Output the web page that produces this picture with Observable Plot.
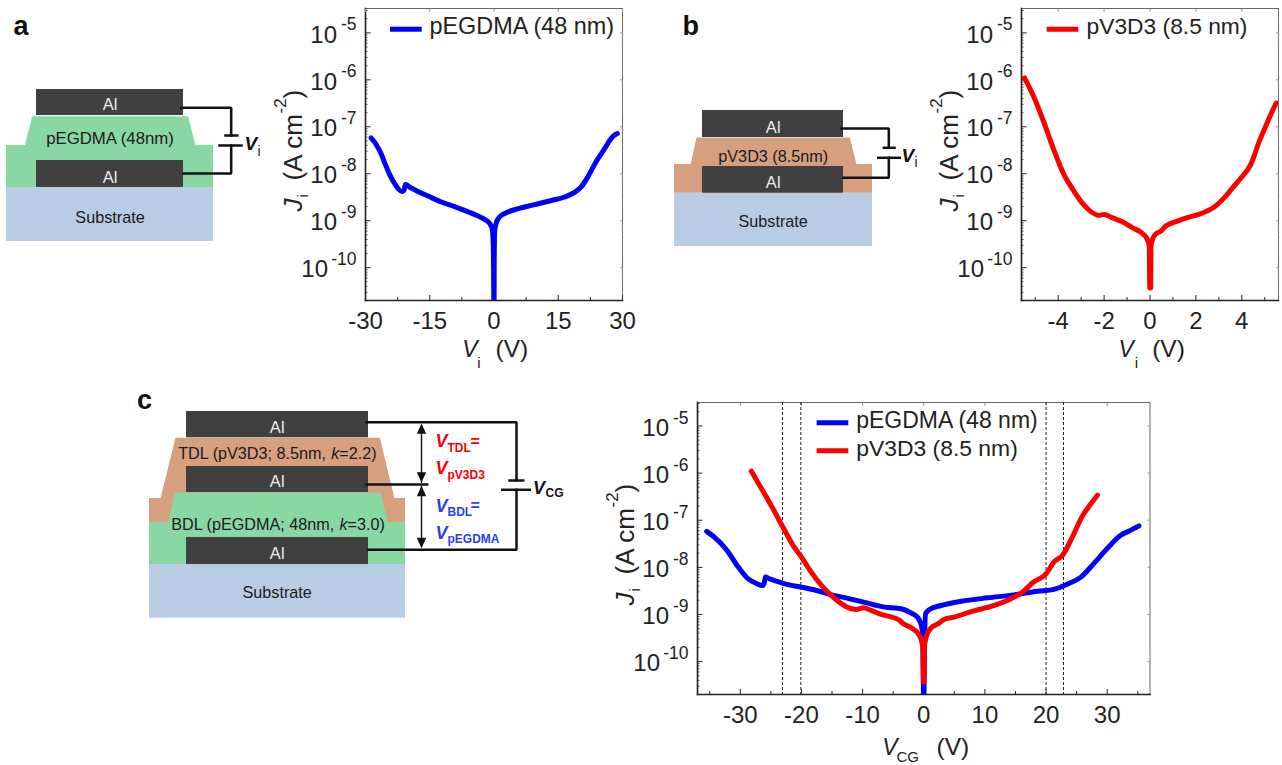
<!DOCTYPE html>
<html><head><meta charset="utf-8">
<script src="https://cdn.jsdelivr.net/npm/d3@7"></script>
<script src="https://cdn.jsdelivr.net/npm/@observablehq/plot@0.6"></script>
<style>
html,body{margin:0;padding:0;background:#fff;width:1282px;height:765px;overflow:hidden}
#page{position:relative;width:1282px;height:765px}
#page svg{position:absolute;background:transparent}
</style></head><body><div id="page"></div>
<script>
const FONT = '"Liberation Sans", Arial, sans-serif';
const BLUE = "#0000f5", RED = "#fa0000", INK = "#222";
const AL = "#404040", GREEN = "#89d7a2", TAN = "#d69f7e", SUB = "#b8cce4";

// Panel a: pEGDMA (48 nm)
const aV = [-28.7,-27.5,-26.3,-25.4,-24.4,-23.2,-22.3,-21.5,-21.0,-20.7,-20.25,-19.7,-19.2,-17.8,-15.4,-12.3,-9.2,-6.1,-3.7,-2.2,-1.0,-0.47,-0.2,-0.1,-0.02,0.02,0.05,0.15,0.55,1.3,2.9,5.6,9.5,13.4,16.5,18.8,20.4,22,23.9,25.9,27,27.8,28.8];
const aJ = [5.8e-8,4.2e-8,2.6e-8,1.6e-8,9.8e-9,6.2e-9,4.7e-9,4.2e-9,4.4e-9,5.9e-9,5.7e-9,5.2e-9,4.9e-9,4.2e-9,3.35e-9,2.5e-9,2.0e-9,1.55e-9,1.26e-9,1.07e-9,8.7e-10,7e-10,3.7e-10,1e-10,1.5e-11,1.5e-11,1.2e-10,6e-10,9.1e-10,1.2e-9,1.48e-9,1.8e-9,2.2e-9,2.7e-9,3.2e-9,4e-9,5.3e-9,8.9e-9,1.85e-8,3.5e-8,5.1e-8,6.3e-8,7.2e-8];
// Panel b: pV3D3 (8.5 nm)
const bV = [-5.47,-5.07,-4.64,-4.2,-3.76,-3.32,-2.96,-2.6,-2.23,-2.0,-1.65,-1.2,-0.77,-0.34,-0.12,-0.03,-0.01,0.03,0.04,0.2,0.47,0.69,1.2,1.63,2.2,2.8,3.24,3.6,3.97,4.4,4.77,5.13,5.5];
const bJ = [1.1e-6,4.4e-7,1.3e-7,3.3e-8,9.8e-9,4.3e-9,2.4e-9,1.6e-9,1.3e-9,1.36e-9,1.16e-9,9.5e-10,7.1e-10,5.4e-10,4e-10,2.9e-10,3.7e-11,3.7e-11,2.9e-10,4.9e-10,6e-10,7.7e-10,9.8e-10,1.16e-9,1.4e-9,1.95e-9,3.1e-9,5e-9,8.2e-9,1.6e-8,5e-8,1.3e-7,3.2e-7];
// Panel c: both layers against the common gate voltage
const cBlueV = [-35.5,-34.1,-32.2,-30.3,-28.7,-27.3,-26.4,-26.1,-25.9,-25.2,-24.1,-22.2,-20,-17.8,-15.1,-12.4,-9.7,-6.4,-3.7,-2.05,-0.96,-0.4,-0.15,-0.02,0.02,0.1,0.3,0.95,2.85,6.1,10.45,14.8,18.6,21.3,23.5,25.7,27.8,30,32.2,33.6,35.2];
const cBlueJ = [5.8e-8,4.2e-8,2.3e-8,1e-8,5.7e-9,4.5e-9,4.1e-9,4.6e-9,6.2e-9,5.7e-9,5.1e-9,4.3e-9,3.8e-9,3.3e-9,2.6e-9,2.2e-9,1.8e-9,1.43e-9,1.32e-9,1.07e-9,8.5e-10,5.9e-10,3.3e-10,1.5e-11,1.5e-11,1.2e-10,1.03e-9,1.27e-9,1.55e-9,1.9e-9,2.25e-9,2.6e-9,3.1e-9,3.4e-9,4.4e-9,6.2e-9,1.2e-8,2.5e-8,4.8e-8,5.9e-8,7.6e-8];
const cRedV = [-28.2,-26.5,-24.6,-23,-21.35,-20,-18.4,-16.7,-15.1,-13.5,-11.8,-11,-9.9,-8.6,-6.95,-5.85,-3.95,-3.7,-2.05,-0.7,-0.15,-0.05,0.05,0.1,0.4,1.2,2.3,3.4,5,7.75,11.55,14.25,16.2,17.8,20,21.3,22.7,24.3,26,27.3,28.4];
const cRedJ = [1.1e-6,4.6e-7,1.7e-7,7e-8,2.9e-8,1.65e-8,7.9e-9,4.1e-9,2.5e-9,1.7e-9,1.32e-9,1.28e-9,1.38e-9,1.22e-9,1e-9,9.2e-10,7.5e-10,6.9e-10,5.2e-10,3.6e-10,2e-10,3.7e-11,3.7e-11,2e-10,3.3e-10,5.2e-10,6.3e-10,7.9e-10,8.8e-10,1.15e-9,1.55e-9,2.15e-9,3e-9,4.7e-9,7.3e-9,1.3e-8,1.8e-8,4.4e-8,1.26e-7,2.2e-7,3.4e-7];

const decades = [-5,-6,-7,-8,-9,-10];
const dashedC = [-23.1,-20.1,20,22.85];
const xTicksA = [-30,-15,0,15,30], xMinorA = [-22.5,-7.5,7.5,22.5];
const xTicksB = [-4,-2,0,2,4], xMinorB = [-5,-3,-1,1,3,5];
const xTicksC = [-30,-20,-10,0,10,20,30], xMinorC = [-35,-25,-15,-5,5,15,25,35];

const minorY = [];
for (let e = -11; e < -4; e++) for (let m = 2; m < 10; m++) minorY.push(m * 10 ** e);

function zip(V, J) { return V.map((v, i) => ({v, j: J[i]})); }

function chart({left, top, right, bottom, xDomain, yDomain, xTicks, xMinor, series, dashed = []}) {
  const L = 66, T = 8, R = 14, B = 72;
  const p = Plot.plot({
    width: right - left + L + R, height: bottom - top + T + B,
    marginLeft: L, marginRight: R, marginTop: T, marginBottom: B,
    style: {fontFamily: FONT, color: INK, background: "transparent"},
    x: {domain: xDomain, axis: null},
    y: {type: "log", domain: yDomain, axis: null},
    marks: [
      Plot.frame({stroke: "#666", strokeWidth: 1}),
      Plot.frame({anchor: "left", stroke: INK, strokeWidth: 1.6}),
      Plot.frame({anchor: "bottom", stroke: INK, strokeWidth: 1.6}),
      // inward ticks, mirrored faintly on the far sides
      Plot.axisX(xTicks, {tickSize: -5, text: null, label: null, stroke: INK}),
      Plot.axisX(xMinor, {tickSize: -3, text: null, label: null, stroke: INK}),
      Plot.axisY(decades.map(e => 10 ** e), {tickSize: -5.5, text: null, label: null, stroke: INK}),
      Plot.axisY(minorY.filter(d => d > yDomain[0] && d < yDomain[1]), {tickSize: -2.5, text: null, label: null, stroke: INK, strokeWidth: 0.8}),
      Plot.axisX(xTicks, {anchor: "top", tickSize: -3, text: null, label: null, stroke: "#999"}),
      Plot.axisY(decades.map(e => 10 ** e), {anchor: "right", tickSize: -3, text: null, label: null, stroke: "#999"}),
      Plot.axisY(minorY.filter(d => d > yDomain[0] && d < yDomain[1]), {anchor: "right", tickSize: -1.5, text: null, label: null, stroke: "#aaa", strokeWidth: 0.7}),
      // tick labels
      Plot.axisX(xTicks, {tickSize: 0, tickPadding: 11, fontSize: 24, fill: INK, label: null, tickFormat: d => String(d)}),
      Plot.text(decades.filter(e => e > -10), {y: e => 10 ** e, text: () => "10", frameAnchor: "left", textAnchor: "end", dx: -28.5, dy: 2, fontSize: 24, fill: INK}),
      Plot.text(decades.filter(e => e === -10), {y: e => 10 ** e, text: () => "10", frameAnchor: "left", textAnchor: "end", dx: -37.5, dy: 2, fontSize: 24, fill: INK}),
      Plot.text(decades, {y: e => 10 ** e, text: e => String(e), frameAnchor: "left", textAnchor: "end", dx: -9, dy: -8, fontSize: 17.5, fill: INK}),
      Plot.ruleX(dashed, {stroke: "#222", strokeWidth: 1, strokeDasharray: "3,2"}),
      ...series.map(s => Plot.line(s.data, {x: "v", y: "j", stroke: s.color, strokeWidth: 5, strokeLinejoin: "round", curve: "monotone-x", clip: true}))
    ]
  });
  p.style.left = (left - L) + "px";
  p.style.top = (top - T) + "px";
  return p;
}

const page = document.getElementById("page");

// Schematics, labels and legend keys on one pixel-scaled overlay
const rects = [
  [6,213,187,241,SUB],[6,213,145,187,GREEN],[36,183,89,115,AL],[36,183,160,187,AL],
  [674,872,192.7,246,SUB],[674,872,164,192.7,TAN],[702,843,110,137,AL],[702,843,166,192.7,AL],
  [149,405,564,617.7,SUB],[149,405,522,564,GREEN],[149,405,498,522,TAN]
];
const polygons = [
  [[[31.7,115.7],[187.7,115.7],[195,145],[24.3,145]],GREEN],
  [[[696,137],[849.3,137],[856,164],[690,164]],TAN],
  [[[175,437.3],[379.3,437.3],[394,498],[160,498]],TAN],
  [[[174.3,492],[380,492],[387.3,522],[167.7,522]],GREEN]
];
const rectsC2 = [[186,368,411,437.3,AL],[186,368,466,492,AL],[186,368,537,564,AL]];
const wires = [
  [[181,107.3],[230.7,107.3],[230.7,135]],[[225,135],[236.7,135]],[[219,145],[241,145]],[[230.7,145],[230.7,173],[183,173]],
  [[841,128],[888.3,128],[888.3,147.3]],[[883.3,147.3],[894,147.3]],[[877.7,157.3],[899.3,157.3]],[[888.3,157.3],[888.3,177.3],[843,177.3]],
  [[366,421.7],[516,421.7],[516,480]],[[509,480],[522.7,480]],[[501.7,489.3],[529.3,489.3]],[[516,489.3],[516,549.3],[368,549.3]],
  [[366,484],[426.7,484]]
];
const arrowStems = [[[421,425],[421,482]],[[421,486],[421,546]]];
const arrowHeads = [
  [[421,423],[425.7,433.3],[416.3,433.3]],[[421,481.7],[425.7,471.7],[416.3,471.7]],
  [[421,485.3],[425.7,495.7],[416.3,495.7]],[[421,547.7],[425.7,537.3],[416.3,537.3]]
];
const legendKeys = [[390,421.7,28.7,BLUE],[1046.7,1078.3,28.7,RED],[816.7,848.3,422.3,BLUE],[816.7,848.3,450.3,RED]];

// [x, baseline, text, size, colour, anchor]
const regular = [
  [109.5,109.3,"Al",16.5,"#eee","middle"],[109.5,143.3,"pEGDMA (48nm)",16.8,"#1a1a1a","middle"],[109.5,182.3,"Al",16.5,"#eee","middle"],[109.5,222.3,"Substrate",16.2,"#1a1a1a","middle"],
  [772.7,132.3,"Al",16.5,"#eee","middle"],[772.7,161,"pV3D3 (8.5nm)",16.2,"#1a1a1a","middle"],[772.7,187.3,"Al",16.5,"#eee","middle"],[772.7,226.7,"Substrate",16.2,"#1a1a1a","middle"],
  [276.7,432.7,"Al",16.5,"#eee","middle"],[276.7,486.7,"Al",16.5,"#eee","middle"],[276.7,558.3,"Al",16.5,"#eee","middle"],[276.7,597.3,"Substrate",16.2,"#1a1a1a","middle"],
  [177.7,458.3,"TDL (pV3D3; 8.5nm, ",16.2,"#1a1a1a","start"],[338.8,458.3,"=2.2)",16.2,"#1a1a1a","start"],
  [170.7,529,"BDL (pEGDMA; 48nm, ",16.2,"#1a1a1a","start"],[347.1,529,"=3.0)",16.2,"#1a1a1a","start"],
  [257,155,"i",14,"#222","start"],[914,166.7,"i",14,"#222","start"],
  [429,33.3,"pEGDMA (48 nm)",23.4,INK,"start"],[1086,33.3,"pV3D3 (8.5 nm)",22.8,INK,"start"],
  [855.7,427.7,"pEGDMA (48 nm)",23,INK,"start"],[855.7,455.3,"pV3D3 (8.5 nm)",22.9,INK,"start"],
  [495,356.7,"(V)",24.5,INK,"start"],[476.7,367,"i",15,INK,"start"],
  [1151.7,356.7,"(V)",24.5,INK,"start"],[1134.2,367,"i",15,INK,"start"],
  [936,754,"(V)",24.5,INK,"start"],[896,761.7,"CG",15,INK,"start"]
];
const italic = [
  [330.7,458.3,"k",16.2,"#1a1a1a","start"],[339,529,"k",16.2,"#1a1a1a","start"],
  [461.7,356.7,"V",23,INK,"start"],[1118,356.7,"V",23,INK,"start"],[881.7,754,"V",23,INK,"start"]
];
const bold = [
  [13,34,"a",27,"#111","start"],[682,34,"b",27,"#111","start"],[136.5,408,"c",27,"#111","start"],
  [447,451.7,"TDL",12,RED,"start"],[470,446,"=",16,RED,"start"],[447,478,"pV3D3",12,RED,"start"],
  [447,515,"BDL",12,"#2a3fe6","start"],[470,510,"=",16,"#2a3fe6","start"],[447,542.3,"pEGDMA",12,"#2a3fe6","start"],
  [545,496.7,"CG",12,"#111","start"]
];
const boldItalic = [
  [244,149.5,"V",19,"#111","start"],[901,161.7,"V",19,"#111","start"],[532.5,493,"V",18,"#111","start"],
  [435,446.7,"V",18,RED,"start"],[435,473,"V",18,RED,"start"],[435,511.7,"V",18,"#2a3fe6","start"],[435,538.3,"V",18,"#2a3fe6","start"]
];
// Rotated y-axis title pieces: [x, start y, text, size, italic]
const yTitleBase = [[301,211,"J",26,true],[307,197,"i",15,false],[301,180,"(A cm",26,false],[285,113,"-2",17,false],[301,98,")",26,false]];
const yTitleShift = [[0,0],[656,0],[332.5,394]];

function textMark(rows, opts) {
  return anchor => Plot.text(rows.filter(r => r[5] === anchor), {
    x: r => r[0], y: r => r[1], text: r => r[2], fontSize: r => r[3], fill: r => r[4],
    textAnchor: anchor, lineAnchor: "bottom", ...opts
  });
}
const yTitleRows = yTitleShift.flatMap(([dx, dy]) => yTitleBase.map(r => [r[0] + dx, r[1] + dy, r[2], r[3], r[4]]));

const overlay = Plot.plot({
  width: 1282, height: 765, margin: 0,
  style: {fontFamily: FONT, background: "transparent"},
  x: {domain: [0,1282], range: [0,1282], axis: null},
  y: {domain: [0,765], range: [0,765], axis: null},
  marks: [
    ...rects.map(r => Plot.rect([r], {x1: r => r[0], x2: r => r[1], y1: r => r[2], y2: r => r[3], fill: r[4]})),
    ...polygons.map(([pts, c]) => Plot.line(pts, {x: d => d[0], y: d => d[1], fill: c, stroke: "none"})),
    ...rectsC2.map(r => Plot.rect([r], {x1: r => r[0], x2: r => r[1], y1: r => r[2], y2: r => r[3], fill: r[4]})),
    ...wires.map(w => Plot.line(w, {x: d => d[0], y: d => d[1], stroke: "#111", strokeWidth: 2.5, strokeLinejoin: "miter", strokeLinecap: "square"})),
    ...arrowStems.map(w => Plot.line(w, {x: d => d[0], y: d => d[1], stroke: "#111", strokeWidth: 1.4})),
    ...arrowHeads.map(w => Plot.line(w, {x: d => d[0], y: d => d[1], fill: "#111", stroke: "none"})),
    ...legendKeys.map(k => Plot.ruleY([k], {x1: k => k[0], x2: k => k[1], y: k => k[2], stroke: k[3], strokeWidth: 5})),
    textMark(regular, {})("start"), textMark(regular, {})("middle"),
    textMark(italic, {fontStyle: "italic"})("start"),
    textMark(bold, {fontWeight: "bold"})("start"),
    textMark(boldItalic, {fontWeight: "bold", fontStyle: "italic"})("start"),
    Plot.text(yTitleRows.filter(r => !r[4]), {x: r => r[0], y: r => r[1], text: r => r[2], fontSize: r => r[3], fill: INK, rotate: -90, textAnchor: "start", lineAnchor: "bottom"}),
    Plot.text(yTitleRows.filter(r => r[4]), {x: r => r[0], y: r => r[1], text: r => r[2], fontSize: r => r[3], fill: INK, rotate: -90, textAnchor: "start", lineAnchor: "bottom", fontStyle: "italic"})
  ]
});
overlay.style.left = "0"; overlay.style.top = "0";
page.appendChild(overlay);

page.appendChild(chart({left: 365, top: 7.5, right: 622, bottom: 299.5, xDomain: [-30,30], yDomain: [2e-11,3.3e-5],
  xTicks: xTicksA, xMinor: xMinorA, series: [{data: zip(aV,aJ), color: BLUE}]}));
page.appendChild(chart({left: 1021, top: 7.5, right: 1278, bottom: 299.5, xDomain: [-5.6,5.6], yDomain: [2e-11,3.3e-5],
  xTicks: xTicksB, xMinor: xMinorB, series: [{data: zip(bV,bJ), color: RED}]}));
page.appendChild(chart({left: 697, top: 401.5, right: 1149.5, bottom: 693.5, xDomain: [-37,37], yDomain: [2e-11,3.15e-5],
  xTicks: xTicksC, xMinor: xMinorC, dashed: dashedC,
  series: [{data: zip(cBlueV,cBlueJ), color: BLUE},{data: zip(cRedV,cRedJ), color: RED}]}));
</script></body></html>
